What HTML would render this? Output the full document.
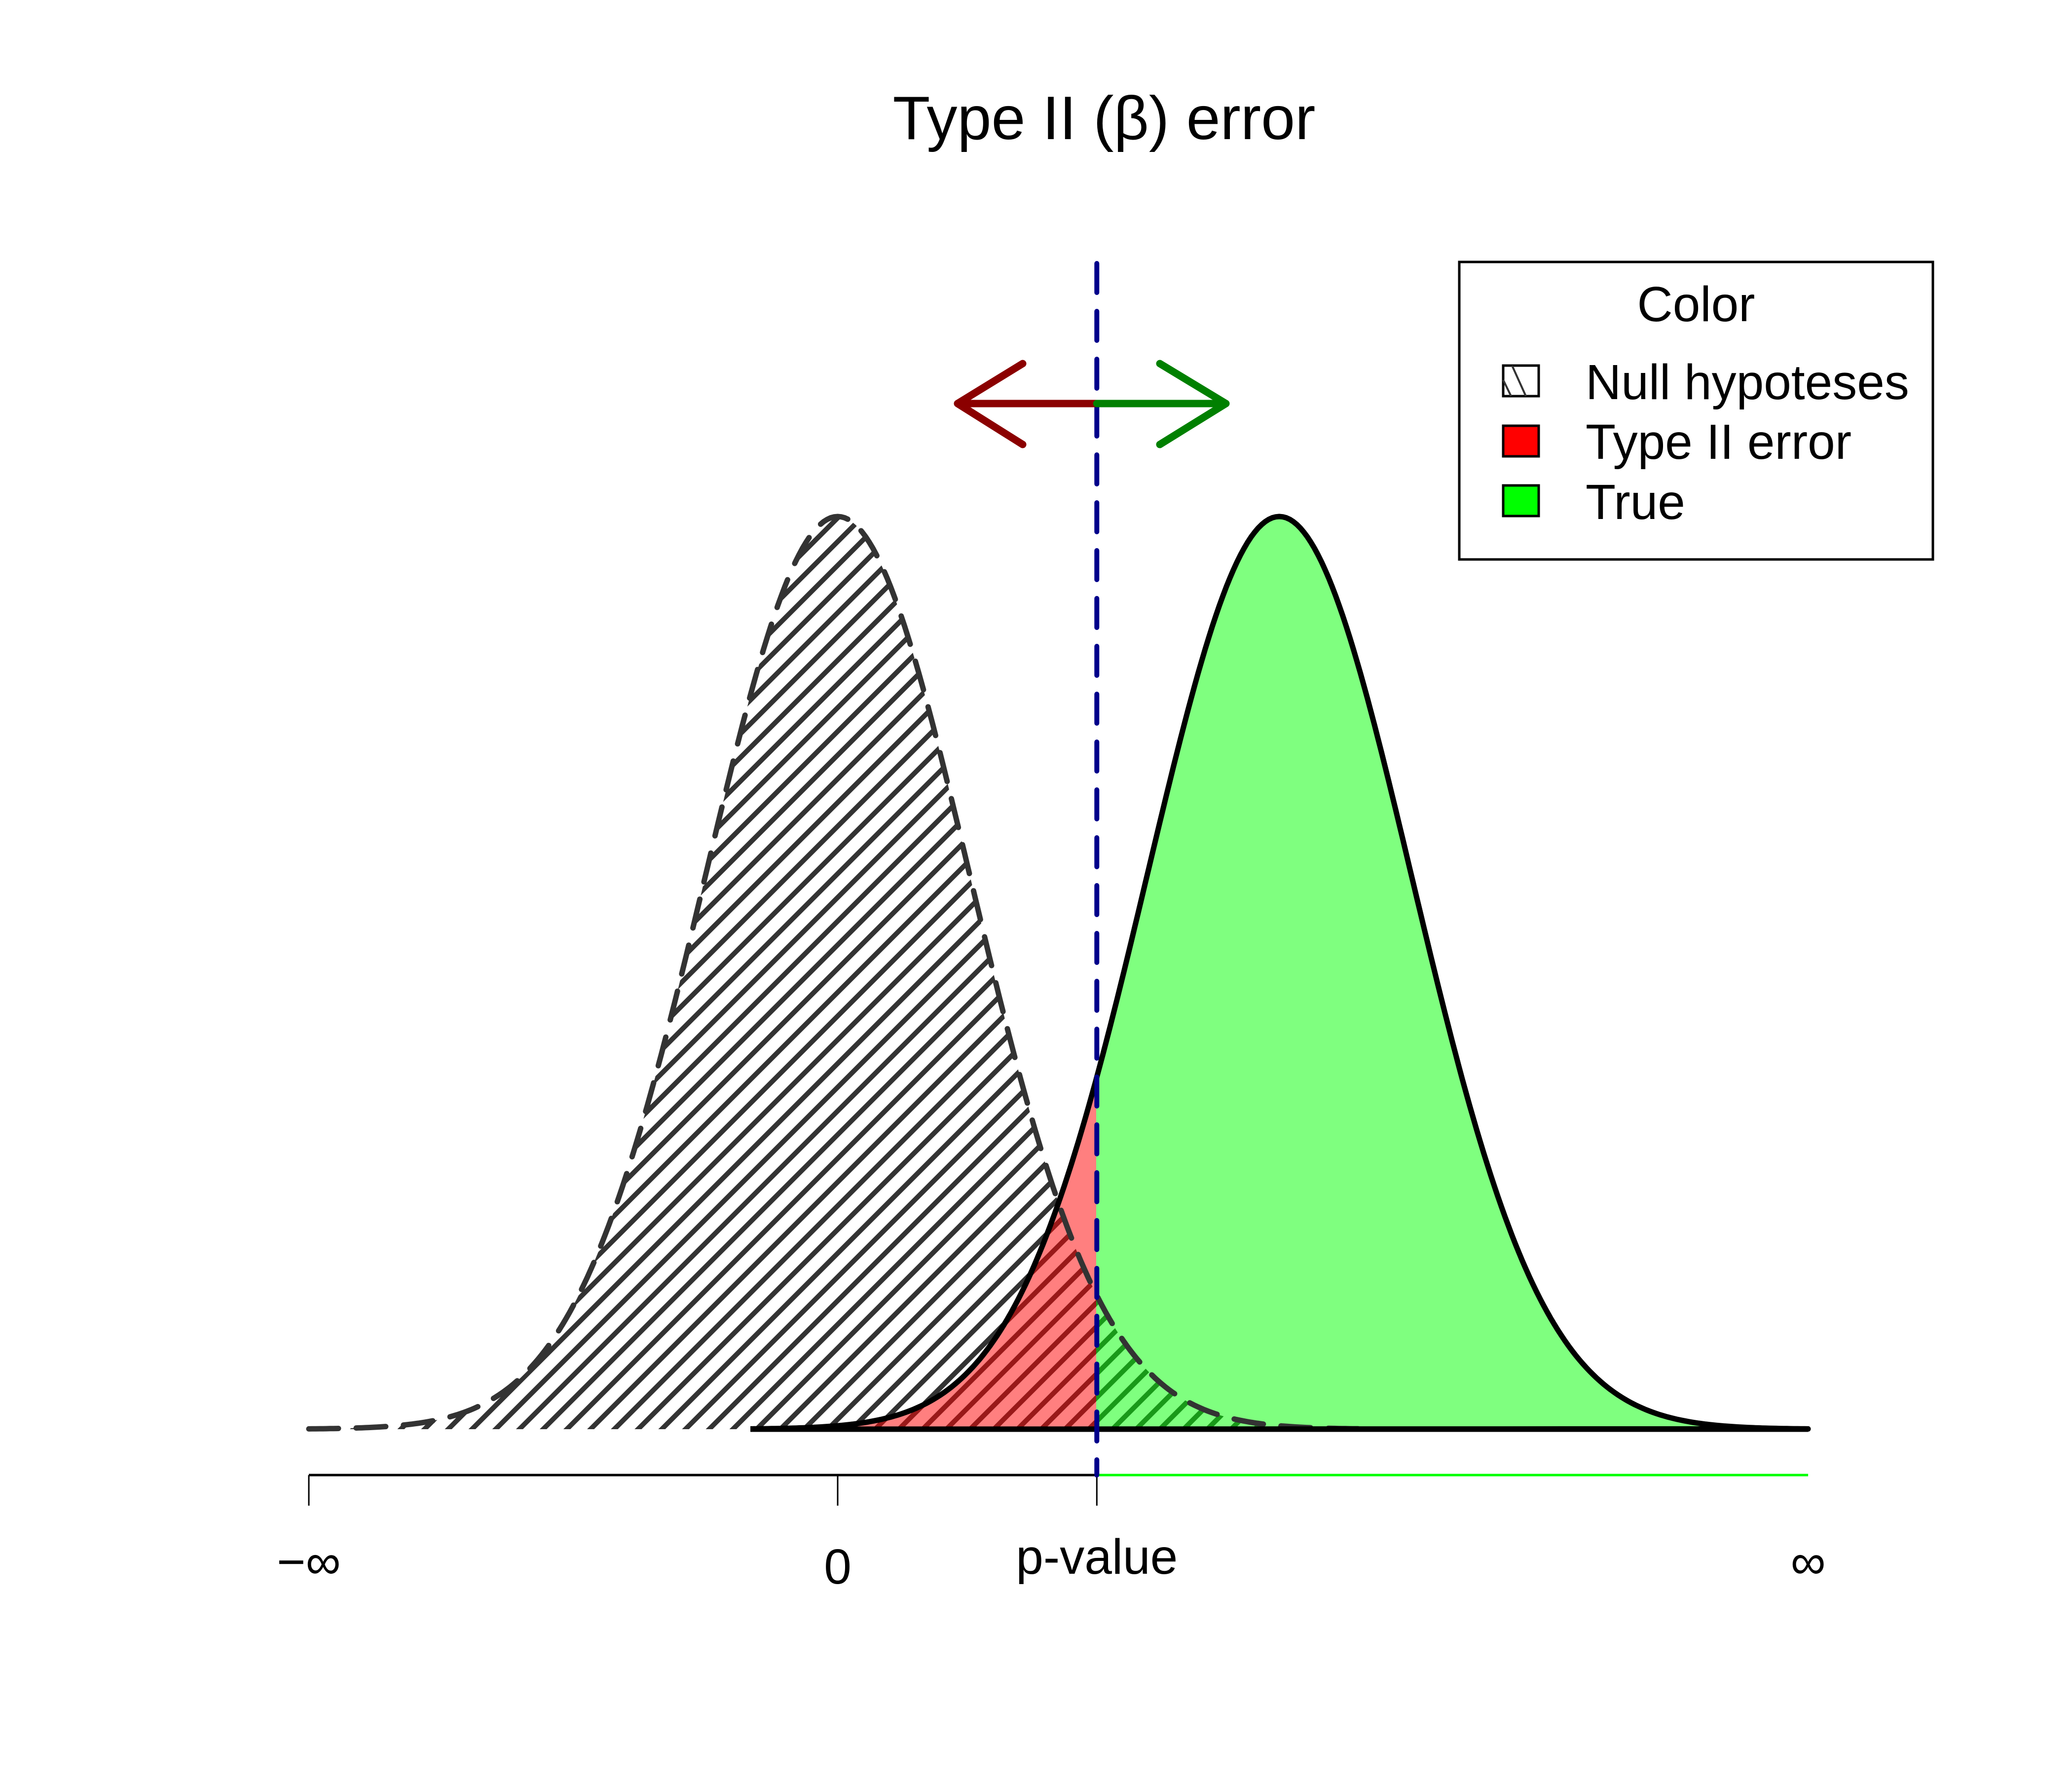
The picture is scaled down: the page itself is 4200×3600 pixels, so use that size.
<!DOCTYPE html>
<html><head><meta charset="utf-8"><style>
html,body{margin:0;padding:0;background:#fff;}
svg{display:block;font-family:"Liberation Sans",sans-serif;}
</style></head><body>
<svg id="chart" width="4200" height="3600" viewBox="0 0 4200 3600" xmlns="http://www.w3.org/2000/svg">
<defs>
<pattern id="hatch" patternUnits="userSpaceOnUse" width="34" height="34" patternTransform="rotate(45)">
<rect x="0" y="0" width="10" height="34" fill="#333333"/>
</pattern>
<clipPath id="clipLeft"><rect x="0" y="0" width="2222" height="3600"/></clipPath>
<clipPath id="clipRight"><rect x="2222" y="0" width="2000" height="3600"/></clipPath>
</defs>
<rect width="4200" height="3600" fill="#fff"/>
<text x="2238" y="282" font-size="124" text-anchor="middle">Type II (β) error</text>
<g id="plot"></g>
<g>
<rect x="2958" y="531" width="960" height="603" fill="#fff" stroke="#000" stroke-width="5"/>
<text x="3438" y="651" font-size="100" text-anchor="middle">Color</text>
<rect x="3047" y="741" width="72" height="62" fill="#fff" stroke="#000" stroke-width="5"/>
<line x1="3065" y1="741" x2="3093" y2="803" stroke="#333" stroke-width="4"/>
<line x1="3047" y1="770" x2="3063" y2="803" stroke="#333" stroke-width="4"/>
<text x="3214" y="809" font-size="100">Null hypoteses</text>
<rect x="3047" y="863" width="72" height="62" fill="#ff0000" stroke="#000" stroke-width="5"/>
<text x="3214" y="930" font-size="100">Type II error</text>
<rect x="3047" y="984" width="72" height="62" fill="#00ff00" stroke="#000" stroke-width="5"/>
<text x="3214" y="1052" font-size="100">True</text>
</g>
</svg>
<script>
const nullParams = [0, 1];       // mean, sd
const altParams = [3.34, 1];     // mean, sd
const critValue = [1.96];
const tickValues = [-4, 0, 1.96, 7.34];
const tickLabels = ["−∞", "0", "p-value", "∞"];

const NS = "http://www.w3.org/2000/svg";
const X0 = 1698, XS = 268, BASE = 2897, PEAKH = 1850;
const xs = z => X0 + z * XS;
const ys = d => BASE - d * PEAKH;
const dens = (z, m, s) => Math.exp(-0.5 * ((z - m) / s) ** 2) / s;
const plot = document.getElementById('plot');
function mk(tag, attrs, name) {
  const el = document.createElementNS(NS, tag);
  for (const k in attrs) el.setAttribute(k, attrs[k]);
  
  
  plot.appendChild(el);
  return el;
}
function curvePts(m, s, a, b) {
  const pts = [];
  for (let i = 0; i <= 300; i++) { const z = a + (b - a) * i / 300; pts.push([xs(z), ys(dens(z, m, s))]); }
  return pts;
}
const crit = critValue[0];
const nPts = curvePts(nullParams[0], nullParams[1], nullParams[0] - 4, nullParams[0] + 4);
const aPts = curvePts(altParams[0], altParams[1], altParams[0] - 4, altParams[0] + 4);
const toD = p => p.map((q, i) => (i ? 'L' : 'M') + q[0].toFixed(1) + ' ' + q[1].toFixed(1)).join(' ');
const areaD = p => toD(p) + ` L${p[p.length-1][0]} ${BASE} L${p[0][0]} ${BASE} Z`;

mk('path', {d: areaD(nPts), fill: 'url(#hatch)'}, 'null-hatch-area');
mk('path', {d: areaD(aPts), fill: 'rgba(255,0,0,0.5)', 'clip-path': 'url(#clipLeft)'}, 'type2-error-area');
mk('path', {d: areaD(aPts), fill: 'rgba(0,255,0,0.5)', 'clip-path': 'url(#clipRight)'}, 'true-area');
mk('path', {d: toD(nPts), fill: 'none', stroke: '#333333', 'stroke-width': 11, 'stroke-dasharray': '60 36', 'stroke-linecap': 'round'}, 'null-curve');
mk('path', {d: toD(aPts) + ` L${aPts[0][0]} ${BASE}`, fill: 'none', stroke: '#000', 'stroke-width': 11, 'stroke-linejoin': 'round'}, 'alt-curve');
mk('line', {x1: aPts[0][0], y1: BASE, x2: aPts[aPts.length-1][0], y2: BASE, stroke: '#000', 'stroke-width': 11}, 'baseline');

// axis
const AY = 2990;
mk('line', {x1: xs(tickValues[0]), y1: AY, x2: xs(crit), y2: AY, stroke: '#000', 'stroke-width': 5}, 'x-axis-line');
mk('line', {x1: xs(crit), y1: AY, x2: xs(tickValues[3]), y2: AY, stroke: '#00ff00', 'stroke-width': 5}, 'x-axis-true-segment');
tickValues.forEach((v, i) => {
  if (i < 3) mk('line', {x1: xs(v), y1: AY, x2: xs(v), y2: 3052, stroke: '#000', 'stroke-width': 3}, 'x-tick');
  const t = mk('text', {x: xs(v), y: i === 1 ? 3210 : (i === 2 ? 3190 : 3200), 'font-size': 100, 'text-anchor': 'middle'}, 'x-tick-label');
  t.textContent = tickLabels[i];
});
// critical line
mk('line', {x1: xs(crit), y1: 534, x2: xs(crit), y2: AY, stroke: '#00008B', 'stroke-width': 10, 'stroke-dasharray': '59 38', 'stroke-linecap': 'round'}, 'critical-value-line');
// arrows
const cx = xs(crit), ay = 818;
mk('path', {d: `M${cx} ${ay} L1941 ${ay} M2073 737 L1941 ${ay} L2073 901`, fill: 'none', stroke: '#8B0000', 'stroke-width': 15, 'stroke-linecap': 'round', 'stroke-linejoin': 'round'}, 'left-arrow');
mk('path', {d: `M${cx} ${ay} L2485 ${ay} M2351 737 L2485 ${ay} L2351 901`, fill: 'none', stroke: '#008000', 'stroke-width': 15, 'stroke-linecap': 'round', 'stroke-linejoin': 'round'}, 'right-arrow');
</script>
</body></html>
